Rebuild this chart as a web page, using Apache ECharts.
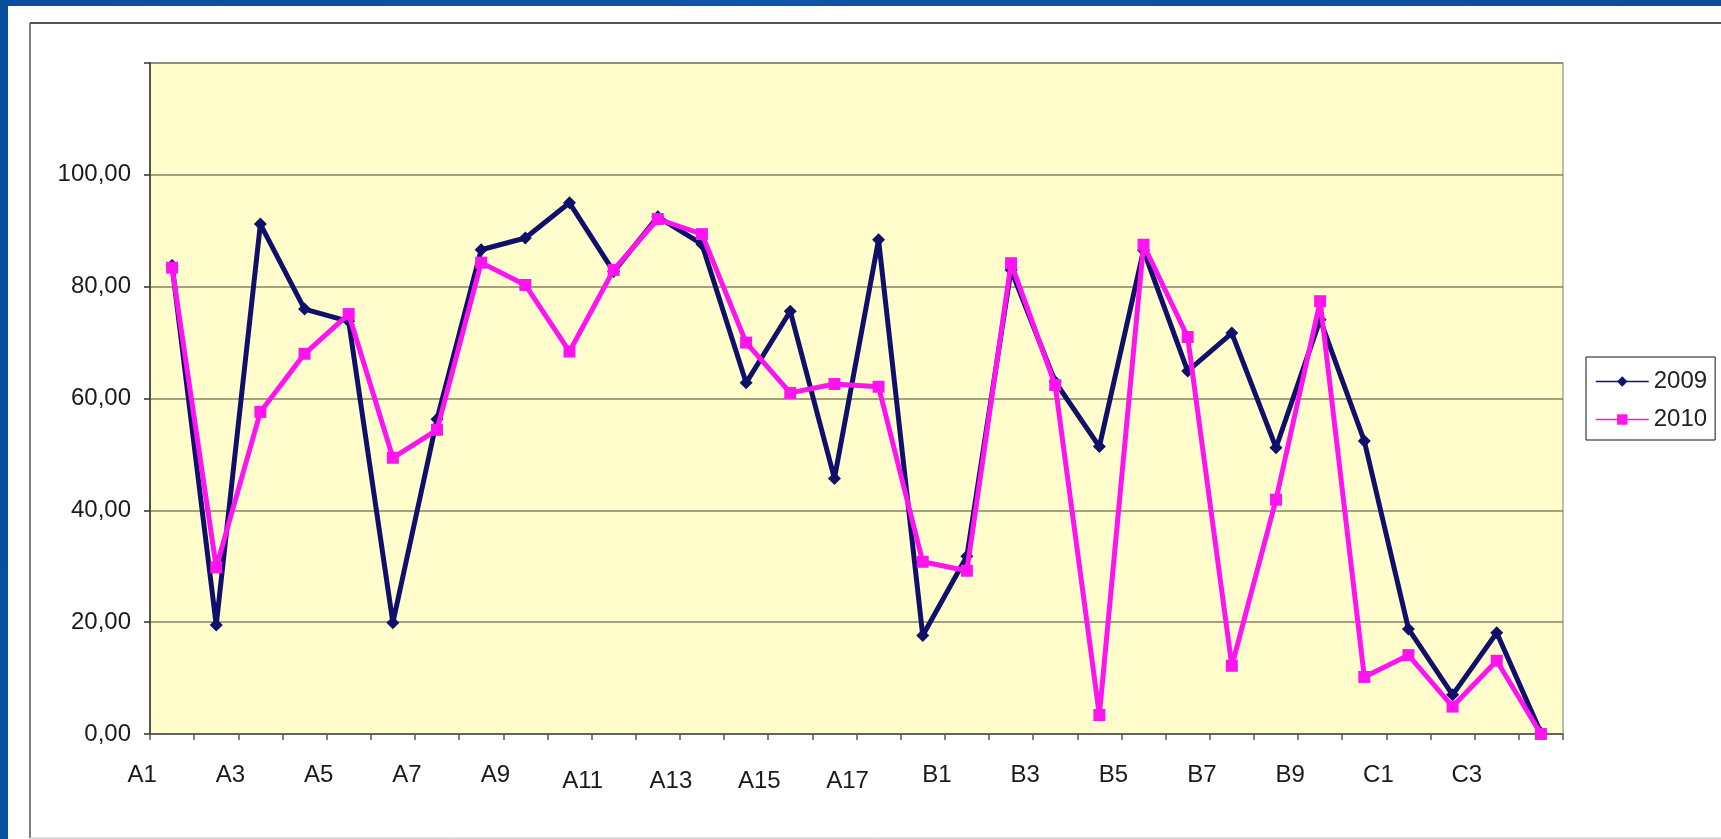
<!DOCTYPE html>
<html>
<head>
<meta charset="utf-8">
<script src="https://cdn.jsdelivr.net/npm/echarts@6/dist/echarts.min.js"></script>
<style>
  html, body { margin: 0; padding: 0; width: 1721px; height: 839px; overflow: hidden; }
  body { background: linear-gradient(100deg, #0a4e9e 0%, #0b55aa 40%, #0a4c9a 100%); position: relative; }
  #panel { position: absolute; left: 8px; top: 6px; width: 1713px; height: 833px; background: #ffffff; }
  #chart { position: absolute; left: 0; top: 0; width: 1721px; height: 839px; }
</style>
</head>
<body>
<div id="panel"></div>
<div id="chart"></div>
<script>
const categories = ['A1','A2','A3','A4','A5','A6','A7','A8','A9','A10','A11','A12','A13','A14','A15','A16','A17','A18',
  'B1','B2','B3','B4','B5','B6','B7','B8','B9','B10','C1','C2','C3','C4'];
const values2009 = [83.8, 19.5, 91.2, 76.0, 73.8, 19.9, 56.3, 86.6, 88.7, 95.0, 82.7, 92.5, 87.6, 62.8, 75.6, 45.7, 88.4, 17.6,
  31.8, 83.0, 63.0, 51.4, 86.5, 64.9, 71.7, 51.2, 74.1, 52.4, 18.8, 7.0, 18.1, 0.2];
const values2010 = [83.4, 29.8, 57.6, 68.0, 75.1, 49.4, 54.4, 84.3, 80.3, 68.4, 83.0, 92.1, 89.4, 70.0, 61.0, 62.6, 62.1, 30.8,
  29.2, 84.2, 62.4, 3.4, 87.5, 71.0, 12.2, 41.9, 77.4, 10.2, 14.1, 4.9, 13.1, 0.0];
const seriesNames = ['2009', '2010'];
const yTicks = { min: 0, max: 120, interval: 20 };

const lowered = new Set(['A11','A13','A15','A17']);
const chart = echarts.init(document.getElementById('chart'), null, { renderer: 'canvas' });
const font = 'Liberation Sans, Arial, sans-serif';

chart.setOption({
  backgroundColor: 'transparent',
  animation: false,
  textStyle: { fontFamily: font },
  graphic: [
    { type: 'line', shape: { x1: 30, y1: 23, x2: 1721, y2: 23 }, style: { stroke: '#555', lineWidth: 2 } },
    { type: 'line', shape: { x1: 30, y1: 23, x2: 30, y2: 838 }, style: { stroke: '#555', lineWidth: 1.5 } },
    { type: 'line', shape: { x1: 30, y1: 838, x2: 1721, y2: 838 }, style: { stroke: '#bbb', lineWidth: 1 } }
  ],
  grid: {
    left: 150, top: 63, right: 158, bottom: 105,
    show: true, backgroundColor: '#FFFDCB', borderColor: '#7a7a6a', borderWidth: 1
  },
  legend: {
    orient: 'vertical', left: 1586, top: 357,
    backgroundColor: '#fff', borderColor: '#111', borderWidth: 1,
    padding: [11, 8, 7, 9], itemGap: 11,
    itemWidth: 53, itemHeight: 13,
    textStyle: { fontSize: 24, color: '#222', fontFamily: font, lineHeight: 27 },
    lineStyle: { width: 1.5 },
    data: seriesNames
  },
  xAxis: {
    type: 'category', data: categories, boundaryGap: true,
    axisLine: { lineStyle: { color: '#555', width: 1.5 } },
    axisTick: { show: true, interval: 0, length: 6, lineStyle: { color: '#555', width: 1.5 } },
    splitLine: { show: false },
    axisLabel: {
      interval: 1, margin: 29, color: '#1a1a1a', fontSize: 24, fontFamily: font,
      formatter: function (v) { return lowered.has(v) ? '{d|' + v + '}' : '{n|' + v + '}'; },
      rich: {
        n: { fontSize: 24, fontFamily: font, color: '#1a1a1a', padding: [0, 60, 0, 0] },
        d: { fontSize: 24, fontFamily: font, color: '#1a1a1a', padding: [6, 62, 0, 0] }
      }
    }
  },
  yAxis: {
    type: 'value', min: yTicks.min, max: yTicks.max, interval: yTicks.interval,
    axisLine: { show: true, lineStyle: { color: '#333', width: 1.5 } },
    axisTick: { show: true, inside: false, length: 6, lineStyle: { color: '#333', width: 1.5 } },
    splitLine: { show: true, lineStyle: { color: '#85826a', width: 1.5 } },
    axisLabel: {
      margin: 19, color: '#1a1a1a', fontSize: 24, fontFamily: font,
      formatter: function (v) { return v >= yTicks.max ? '' : v.toFixed(2).replace('.', ','); }
    }
  },
  series: [
    {
      name: seriesNames[0], type: 'line', data: values2009,
      symbol: 'diamond', symbolSize: 13, showAllSymbol: true,
      lineStyle: { color: '#10106a', width: 5 },
      itemStyle: { color: '#10106a' },
      z: 2
    },
    {
      name: seriesNames[1], type: 'line', data: values2010,
      symbol: 'rect', symbolSize: 12, showAllSymbol: true,
      lineStyle: { color: '#ff14f0', width: 5 },
      itemStyle: { color: '#ff14f0' },
      z: 3
    }
  ]
});
</script>
</body>
</html>
